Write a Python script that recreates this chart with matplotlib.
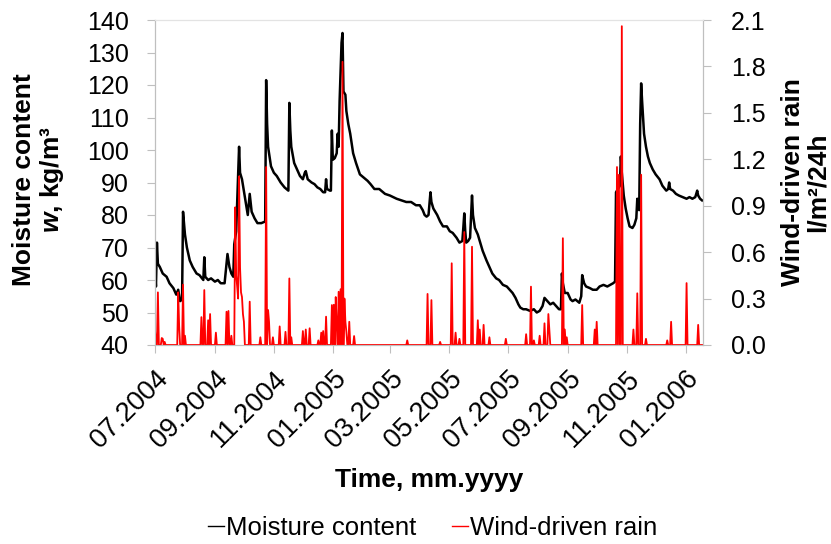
import matplotlib
matplotlib.use("Agg")
import matplotlib.pyplot as plt
import matplotlib.dates as mdates
from matplotlib.lines import Line2D
import numpy as np
import pandas as pd

plt.rcParams["font.family"] = ["Liberation Sans", "DejaVu Sans"]
plt.rcParams["mathtext.fontset"] = "custom"
plt.rcParams["mathtext.rm"] = "Liberation Sans:bold"
plt.rcParams["mathtext.bfit"] = "Liberation Sans:italic:bold"

# days since 01.07.2004, moisture content in kg/m3
moist_day = [0, 1, 2, 3, 5, 8, 12, 15, 19, 22, 24, 26, 28, 29, 31, 33, 36, 39, 43, 46,
             50, 51, 52, 55, 58, 62, 65, 68, 72, 75, 77, 79, 81, 82, 84, 87, 88, 90, 93, 96,
             98, 100, 103, 106, 110, 114, 115, 116, 117, 120, 123, 126, 130, 134, 136, 138, 139, 140, 141, 144,
             147, 150, 153, 155, 156, 158, 162, 165, 168, 171, 174, 176, 177, 178, 181, 182, 183, 184, 186, 188,
             189, 190, 191, 193, 194, 195, 197, 198, 200, 202, 205, 208, 212, 216, 220, 223, 227, 232, 238, 243,
             250, 255, 260, 265, 270, 274, 277, 279, 281, 283, 285, 286, 288, 292, 295, 298, 302, 305, 308, 312,
             315, 318, 319, 320, 321, 322, 324, 326, 328, 329, 331, 334, 337, 339, 343, 346, 349, 353, 356, 360,
             364, 367, 370, 373, 376, 378, 381, 384, 388, 392, 395, 398, 401, 403, 406, 409, 412, 415, 418, 420,
             421, 422, 424, 427, 430, 432, 435, 439, 441, 442, 444, 446, 450, 453, 457, 460, 464, 468, 471, 474,
             476, 477, 479, 481, 482, 483, 485, 487, 489, 491, 494, 496, 498, 499, 500, 501, 502, 503, 504, 506,
             508, 510, 512, 515, 518, 522, 525, 529, 531, 532, 533, 536, 539, 542, 546, 550, 553, 556, 559, 561,
             562, 564, 566]
moist_val = [63, 58, 71.5, 65, 64, 62, 61, 59, 57.5, 55.5, 57, 53.5, 54, 81, 74, 70, 66, 64, 62, 61.5,
             60, 67, 61, 60, 60.5, 59.5, 60, 59, 59, 68, 64, 62, 61, 71, 75, 101, 93, 91, 85.5, 80,
             86.5, 81, 79, 77.5, 77.5, 78, 121.5, 108, 101, 95, 93, 92, 90, 88.5, 88, 87.5, 114.5, 106, 101, 96,
             94, 92, 91, 93, 93.5, 91, 90, 89.5, 88.5, 88, 87, 87, 91, 88, 87.5, 87.5, 106, 97, 97.5, 99,
             105, 101, 115, 133, 136, 118, 117, 112, 108, 105, 99, 96, 92.5, 91.5, 90.5, 89.5, 88, 88, 86.5, 86,
             85, 84.5, 84, 84, 83, 83, 81.5, 80, 79.5, 80, 87, 84, 82, 80, 78, 76.5, 76.5, 75, 74.5, 73,
             71.5, 72, 76, 80.5, 75, 71.5, 72, 73, 86, 80, 76, 74, 71, 69, 66, 64, 62, 60.5, 60, 58.5,
             58, 57, 56, 54.5, 52.5, 51.5, 51, 51, 50.5, 51, 50, 50.5, 52, 54.5, 53.5, 52.5, 53, 52, 51, 51,
             62, 59, 56, 56, 54, 53.5, 54, 53, 55, 61.5, 59, 58, 57.5, 57, 57, 58, 58.5, 58, 58.5, 59,
             59.5, 87, 88, 89, 98, 93, 86, 82, 79, 76.5, 76, 77, 79, 85, 82, 81.5, 108, 120.5, 115, 105,
             101, 98, 96, 94, 92.5, 91, 89, 87.5, 88, 90, 88, 87.5, 86.5, 86, 85.5, 85, 85.5, 85, 85.5, 87.5,
             86, 85, 84.5]

# wind-driven rain, l/m2/24h, days with rain
rain_day = [0, 3, 7, 8, 10, 24, 25, 29, 31, 48, 51, 55, 57, 63, 74, 76, 79, 83, 84, 85,
            86, 87, 88, 89, 90, 91, 92, 98, 109, 115, 117, 118, 122, 129, 135, 139, 141, 153, 156, 160,
            169, 172, 174, 177, 183, 185, 187, 188, 190, 192, 194, 196, 197, 198, 201, 206, 261, 282, 286, 295,
            307, 311, 315, 320, 328, 334, 336, 340, 346, 363, 384, 389, 392, 398, 403, 407, 408, 422, 424, 426,
            442, 455, 457, 478, 480, 483, 495, 499, 503, 508, 530, 534, 550, 562]
rain_val = [0.10, 0.34, 0.045, 0.04, 0.02, 0.34, 0.12, 0.39, 0.06, 0.18, 0.355, 0.16, 0.20, 0.08, 0.215, 0.22, 0.06, 0.89, 0.45, 0.38,
            0.30, 1.09, 0.50, 0.34, 0.31, 0.20, 0.15, 0.28, 0.05, 1.15, 0.226, 0.15, 0.05, 0.12, 0.085, 0.43, 0.05, 0.09, 0.10, 0.108,
            0.03, 0.08, 0.09, 0.183, 0.258, 0.26, 0.31, 0.12, 0.344, 0.36, 1.83, 0.30, 0.15, 0.086, 0.15, 0.058, 0.03, 0.33, 0.29, 0.02,
            0.528, 0.08, 0.04, 0.73, 0.635, 0.16, 0.10, 0.13, 0.05, 0.04, 0.07, 0.377, 0.03, 0.06, 0.14, 0.20, 0.10, 0.69, 0.10, 0.05,
            0.258, 0.10, 0.15, 1.15, 1.10, 2.06, 0.10, 0.334, 1.10, 0.04, 0.03, 0.15, 0.40, 0.13]

n_days = 567
start = pd.Timestamp("2004-07-01")
moist_dates = start + pd.to_timedelta(moist_day, unit="D")
rain = np.zeros(n_days)
rain[rain_day] = rain_val #Daily series, zero on dry days
rain_dates = start + pd.to_timedelta(np.arange(n_days), unit="D")

grey = "#bfbfbf"
fig = plt.figure(figsize=(8.31, 5.44), dpi=100)
ax = fig.add_axes([155 / 831, 1 - 345 / 544, 548 / 831, 325 / 544])
ax2 = ax.twinx()

ax.plot(moist_dates, moist_val, color="black", lw=1.8)
ax2.plot(rain_dates, rain, color="red", lw=1.3)

ax.set_xlim(start, start + pd.Timedelta(days=n_days))
ax.set_ylim(40, 140)
ax.set_yticks(np.arange(40, 141, 10))
ax2.set_ylim(0, 2.1)
ax2.set_yticks(np.arange(0, 2.11, 0.3))
ax2.yaxis.set_major_formatter(plt.FuncFormatter(lambda v, _: f"{v:.1f}"))

ax.set_xticks(pd.date_range("2004-07-01", "2006-01-01", freq="2MS"))
ax.xaxis.set_major_formatter(mdates.DateFormatter("%m.%Y"))
plt.setp(ax.get_xticklabels(), rotation=45, ha="right", rotation_mode="anchor")

for a in (ax, ax2):
    for s in a.spines.values():
        s.set_color(grey)
    a.spines["top"].set_color("#e3e3e3")
ax.tick_params(axis="both", color=grey, length=6)
ax.tick_params(axis="y", labelsize=18, pad=13)
ax.tick_params(axis="x", labelsize=19.5, pad=9)
ax2.tick_params(axis="y", labelsize=18, color=grey, length=6, pad=14)

fig.text(39 / 831, 1 - 180 / 544, "Moisture content\n$\\mathbfit{w}$, kg/m³", rotation=90,
         ha="center", va="center", ma="center", fontsize=19, fontweight="bold", linespacing=1.05)
fig.text(805 / 831, 1 - 182 / 544, "Wind-driven rain\nl/m²/24h", rotation=90,
         ha="center", va="center", ma="center", fontsize=19, fontweight="bold", linespacing=1.05)
fig.text(429 / 831, 1 - 480 / 544, "Time, mm.yyyy", ha="center", va="center",
         fontsize=19, fontweight="bold")

handles = [Line2D([], [], color="black", lw=1), Line2D([], [], color="red", lw=1)]
fig.legend(handles, ["Moisture content", "Wind-driven rain"], loc="center",
           bbox_to_anchor=(433 / 831, 1 - 528 / 544), ncol=2, frameon=False, fontsize=18.5,
           handlelength=0.6, handletextpad=0.1, columnspacing=1.4)

fig.savefig("out.png", dpi=100)
